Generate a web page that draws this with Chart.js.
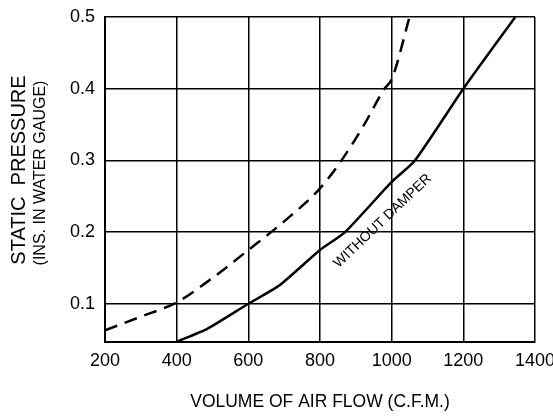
<!DOCTYPE html>
<html>
<head>
<meta charset="utf-8">
<script src="https://cdn.jsdelivr.net/npm/chart.js@4.4.0/dist/chart.umd.min.js"></script>
<style>
  html, body { margin: 0; padding: 0; background: #fff; }
  #wrap { width: 553px; height: 417px; }
</style>
</head>
<body>
<div id="wrap"><canvas id="fanChart"></canvas></div>
<script>
// Airflow curves
const flowSolid = [400, 485, 600, 685, 800, 870, 1000, 1065, 1200, 1345];
const pressSolid = [0.047, 0.065, 0.1, 0.125, 0.175, 0.2, 0.27, 0.3, 0.4, 0.5];
const flowDashed = [200, 300, 400, 500, 600, 700, 800, 860, 920, 980, 1000, 1050];
const pressDashed = [0.063, 0.082, 0.102, 0.136, 0.175, 0.215, 0.261, 0.3, 0.347, 0.4, 0.413, 0.5];
const yTicks = [0.1, 0.2, 0.3, 0.4, 0.5];
const curveLabel = 'WITHOUT DAMPER';
const labelAt = { x: 975, y: 0.2155 };

const FONT = "'Liberation Sans', Arial, sans-serif";

function toPoints(xs, ys) {
    return xs.map((x, i) => ({ x: x, y: ys[i] }));
}

// draws the y title (two sizes) and the slanted curve label
const annotations = {
    id: 'annotations',
    afterDraw(chart) {
        const ctx = chart.ctx;
        const xs = chart.scales.x, ys = chart.scales.y;
        ctx.save();
        ctx.fillStyle = '#000';
        ctx.textAlign = 'center';
        ctx.textBaseline = 'middle';

        ctx.save();
        ctx.translate(19, 170);
        ctx.rotate(-Math.PI / 2);
        ctx.font = '20px ' + FONT;
        ctx.fillText('STATIC  PRESSURE', 0, 0);
        ctx.restore();

        ctx.save();
        ctx.translate(41, 173);
        ctx.rotate(-Math.PI / 2);
        ctx.font = '16px ' + FONT;
        ctx.fillText('(INS. IN WATER GAUGE)', 0, 0);
        ctx.restore();

        ctx.save();
        ctx.translate(xs.getPixelForValue(labelAt.x), ys.getPixelForValue(labelAt.y));
        ctx.rotate(-43.5 * Math.PI / 180);
        ctx.font = '14px ' + FONT;
        ctx.fillText(curveLabel, 0, 0);
        ctx.restore();

        ctx.restore();
    }
};

const ctx = document.getElementById('fanChart').getContext('2d');
const fanChart = new Chart(ctx, {
    type: 'line',
    data: {
        datasets: [{
            label: 'without damper',
            data: toPoints(flowSolid, pressSolid),
            borderColor: '#000',
            borderWidth: 2.5,
            pointRadius: 0,
            tension: 0.2,
            fill: false
        }, {
            label: 'with damper',
            data: toPoints(flowDashed, pressDashed),
            borderColor: '#000',
            borderWidth: 2.5,
            borderDash: [13, 8],
            pointRadius: 0,
            cubicInterpolationMode: 'monotone',
            fill: false
        }]
    },
    options: {
        responsive: true,
        maintainAspectRatio: false,
        animation: false,
        layout: { padding: { top: 17, right: 18, left: 0, bottom: 0 } },
        plugins: {
            legend: { display: false },
            tooltip: { enabled: false }
        },
        scales: {
            x: {
                type: 'linear',
                min: 200,
                max: 1400,
                ticks: {
                    stepSize: 200,
                    color: '#000',
                    padding: 8,
                    maxRotation: 0,
                    font: { family: FONT, size: 18 },
                    callback: function(value) { return String(value); }
                },
                grid: { color: '#000', lineWidth: 1.5, drawTicks: false },
                border: { color: '#000', width: 2 },
                title: {
                    display: true,
                    text: 'VOLUME OF AIR FLOW (C.F.M.)',
                    color: '#000',
                    font: { family: FONT, size: 17.5 },
                    padding: { top: 16 }
                },
                afterFit: function(scale) {
                    scale.height = 75;
                    scale.paddingLeft = 0;
                    scale.paddingRight = 0;
                }
            },
            y: {
                type: 'linear',
                min: 0.0467,
                max: 0.5,
                afterBuildTicks: function(scale) {
                    scale.ticks = yTicks.map(v => ({ value: v }));
                },
                ticks: {
                    color: '#000',
                    padding: 10,
                    font: { family: FONT, size: 18 },
                    callback: function(value) { return value.toFixed(1); }
                },
                grid: { color: '#000', lineWidth: 1.5, drawTicks: false },
                border: { color: '#000', width: 2 },
                afterFit: function(scale) {
                    scale.width = 105;
                    scale.paddingTop = 0;
                    scale.paddingBottom = 0;
                }
            }
        }
    },
    plugins: [annotations]
});
</script>
</body>
</html>
